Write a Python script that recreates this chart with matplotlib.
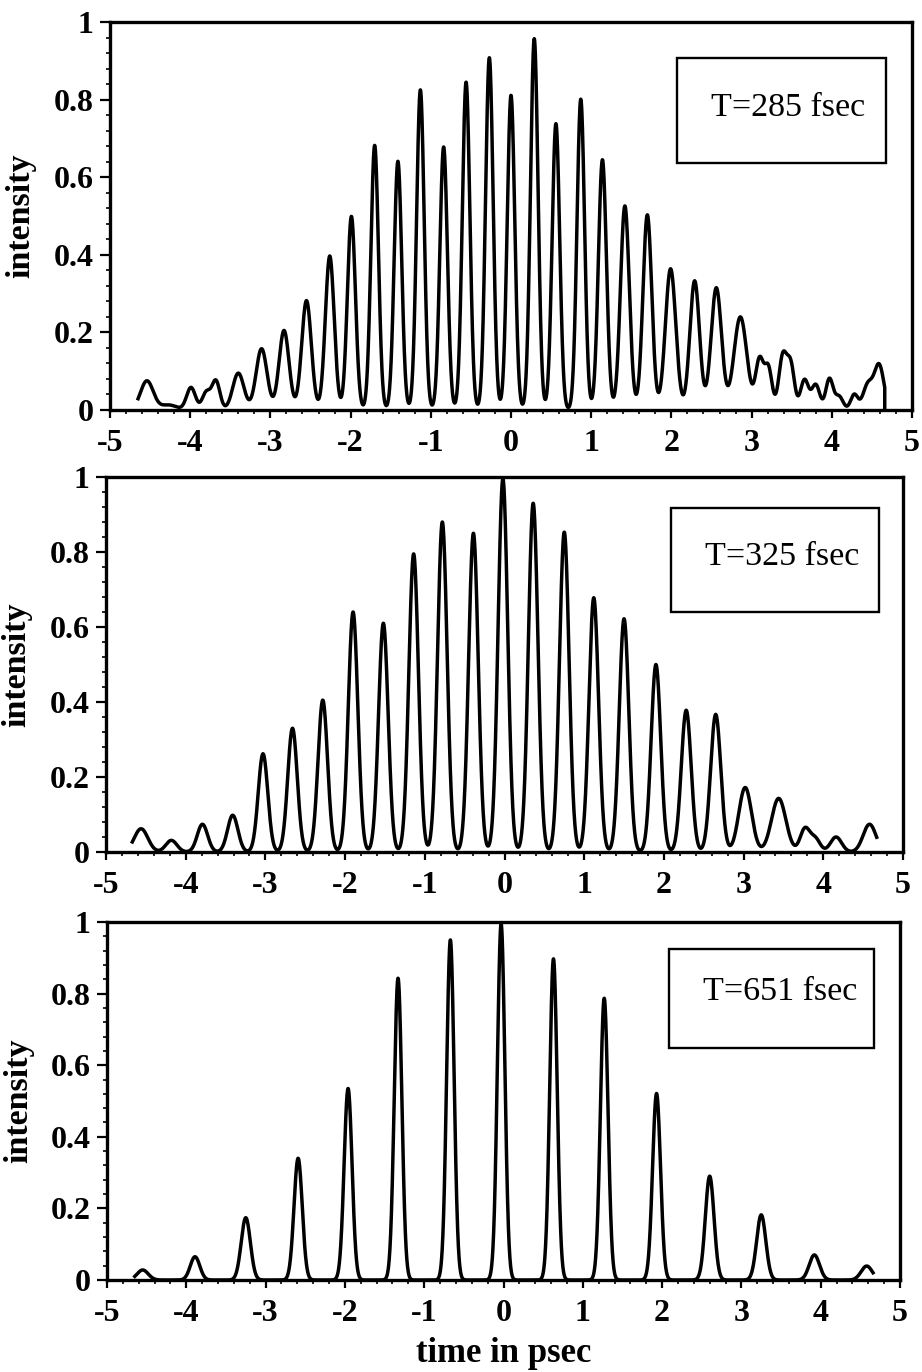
import numpy as np
import matplotlib
matplotlib.use("Agg")
import matplotlib.pyplot as plt
from matplotlib.patches import Rectangle
from matplotlib.ticker import MultipleLocator, FuncFormatter

plt.rcParams["font.family"] = ["Liberation Serif", "DejaVu Serif"]
plt.rcParams["axes.unicode_minus"] = False

# ---- pulse trains: centre time (ps), peak intensity, rms width (ps) ----
labels = ["T=285 fsec", "T=325 fsec", "T=651 fsec"]

t285 = [-4.54, -4.27, -3.99, -3.80, -3.68, -3.40, -3.11, -2.83, -2.55, -2.26,
        -1.99, -1.70, -1.41, -1.13, -0.84, -0.56, -0.27, 0.00, 0.29, 0.56,
        0.87, 1.14, 1.42, 1.70, 1.99, 2.29, 2.56, 2.86, 3.10, 3.21,
        3.39, 3.49, 3.66, 3.80, 3.97, 4.09, 4.28, 4.45, 4.59]
h285 = [0.075, 0.013, 0.058, 0.045, 0.075, 0.095, 0.158, 0.205, 0.282, 0.397,
        0.499, 0.682, 0.641, 0.825, 0.678, 0.845, 0.908, 0.811, 0.957, 0.738,
        0.801, 0.645, 0.526, 0.503, 0.364, 0.333, 0.315, 0.240, 0.130, 0.105,
        0.140, 0.110, 0.078, 0.065, 0.080, 0.035, 0.040, 0.065, 0.115]
s285 = [0.080, 0.100, 0.055, 0.050, 0.050, 0.070, 0.068, 0.062, 0.060, 0.055,
        0.050, 0.047, 0.047, 0.047, 0.047, 0.047, 0.047, 0.047, 0.047, 0.047,
        0.047, 0.050, 0.055, 0.055, 0.065, 0.060, 0.065, 0.080, 0.050, 0.045,
        0.050, 0.045, 0.050, 0.050, 0.045, 0.050, 0.045, 0.060, 0.060]

t325 = [-4.56, -4.18, -3.79, -3.41, -3.03, -2.66, -2.28, -1.90, -1.52, -1.14,
        -0.78, -0.39, -0.02, 0.36, 0.75, 1.12, 1.50, 1.90, 2.28, 2.65,
        3.02, 3.44, 3.77, 3.90, 4.16, 4.58]
h325 = [0.062, 0.031, 0.074, 0.098, 0.262, 0.330, 0.405, 0.640, 0.610, 0.795,
        0.880, 0.850, 0.995, 0.930, 0.853, 0.678, 0.622, 0.500, 0.378, 0.367,
        0.172, 0.143, 0.062, 0.035, 0.040, 0.074]
s325 = [0.085, 0.070, 0.065, 0.065, 0.060, 0.060, 0.060, 0.060, 0.060, 0.060,
        0.060, 0.060, 0.060, 0.060, 0.060, 0.060, 0.060, 0.060, 0.062, 0.064,
        0.080, 0.090, 0.060, 0.060, 0.070, 0.080]

t651 = [-4.55, -3.89, -3.25, -2.59, -1.96, -1.33, -0.67, -0.03, 0.63, 1.27,
        1.93, 2.60, 3.25, 3.92, 4.58]
h651 = [0.028, 0.065, 0.174, 0.340, 0.535, 0.843, 0.950, 0.995, 0.897, 0.787,
        0.521, 0.290, 0.182, 0.070, 0.039]
s651 = [0.070, 0.060, 0.058, 0.052, 0.050, 0.048, 0.047, 0.047, 0.047, 0.048,
        0.050, 0.055, 0.058, 0.065, 0.070]

# recorded time window of each trace (ps)
t_start = [-4.65, -4.67, -4.65]
t_end = [4.66, 4.67, 4.66]

peaks = [(t285, h285, s285), (t325, h325, s325), (t651, h651, s651)]

# axes rectangles in pixels: left, top, right, bottom
W, H = 922, 1372
boxes_px = [(110, 22, 912, 410), (106, 477, 903, 852), (107, 922, 900, 1280)]


def trace(t, centres, heights, widths):
    c = np.asarray(centres)[:, None]
    a = np.asarray(heights)[:, None]
    s = np.asarray(widths)[:, None]
    return (a * np.exp(-(t[None, :] - c) ** 2 / (2 * s ** 2))).sum(axis=0)


def ytick_fmt(v, pos):
    if abs(v) < 1e-9:
        return "0"
    if abs(v - 1) < 1e-9:
        return "1"
    return f"{v:.1f}"


def xtick_fmt(v, pos):
    return f"{int(round(v))}"


fig = plt.figure(figsize=(W / 100, H / 100), dpi=100)

label_box = [(0.707, 0.637, 0.261, 0.270, 0.845, 0.778),
             (0.709, 0.640, 0.261, 0.277, 0.848, 0.787),
             (0.709, 0.648, 0.258, 0.277, 0.849, 0.804)]

for i, ((l, tp, r, b), (tc, hc, sc)) in enumerate(zip(boxes_px, peaks)):
    ax = fig.add_axes([l / W, 1 - b / H, (r - l) / W, (b - tp) / H])
    t = np.linspace(t_start[i], t_end[i], 4000)
    y = trace(t, tc, hc, sc)
    if i == 0:
        # trace ends with a drop back to the baseline
        t = np.append(t, t[-1])
        y = np.append(y, 0.0)
    ax.plot(t, y, color="black", lw=2.5, solid_joinstyle="round", clip_on=False)

    ax.set_xlim(-5, 5)
    ax.set_ylim(0, 1)
    ax.xaxis.set_major_locator(MultipleLocator(1))
    ax.xaxis.set_minor_locator(MultipleLocator(0.2))
    ax.yaxis.set_major_locator(MultipleLocator(0.2))
    ax.yaxis.set_minor_locator(MultipleLocator(0.04))
    ax.xaxis.set_major_formatter(FuncFormatter(xtick_fmt))
    ax.yaxis.set_major_formatter(FuncFormatter(ytick_fmt))
    ax.tick_params(axis="x", which="major", direction="out", length=6, width=1.6,
                   pad=8, labelsize=23)
    ax.tick_params(axis="y", which="major", direction="out", length=7, width=1.6,
                   pad=5, labelsize=23)
    ax.tick_params(which="minor", direction="out", length=3, width=1.2)
    ax.tick_params(top=False, right=False)
    for lab in ax.get_xticklabels() + ax.get_yticklabels():
        lab.set_fontweight("bold")
    for sp in ax.spines.values():
        sp.set_linewidth(2.4)

    ax.set_ylabel("intensity", fontsize=24.5, fontweight="bold")
    ax.yaxis.set_label_coords(-0.092, 0.5)

    bx, by, bw, bh, tx, ty = label_box[i]
    ax.add_patch(Rectangle((bx, by), bw, bh, transform=ax.transAxes,
                           fill=False, lw=1.7, ec="black", zorder=3))
    ax.text(tx, ty, labels[i], transform=ax.transAxes, ha="center",
            va="center", fontsize=24.5)

    if i == 2:
        ax.set_xlabel("time in psec", fontsize=25, fontweight="bold")
        ax.xaxis.set_label_coords(0.5, -0.158)

fig.savefig("out.png", dpi=100)
